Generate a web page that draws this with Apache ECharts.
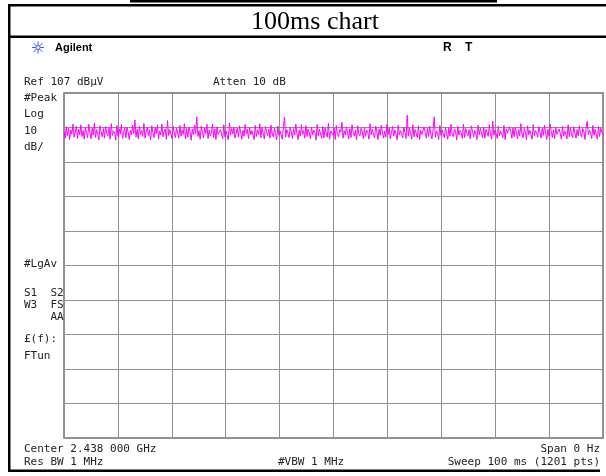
<!DOCTYPE html>
<html>
<head>
<meta charset="utf-8">
<script src="https://cdn.jsdelivr.net/npm/echarts@6/dist/echarts.min.js"></script>
<style>
html,body{margin:0;padding:0;background:#fff;}
#chart{width:606px;height:476px;}
</style>
</head>
<body>
<div id="chart"></div>
<script>
// ---- data ----
const TITLE = '100ms chart';
const REF_LEVEL = 107;        // dBµV, top of screen
const DB_PER_DIV = 10;
const DIVS = 10;
const SWEEP_MS = 100;
// trace (dBµV), left to right
const trace = [
  95.8, 93.9, 97.2, 94.6, 96.9, 93.5, 96.3, 95.1, 98.0, 94.2, 95.7, 97.4, 93.8, 96.5, 94.9, 97.8, 94.4, 96.1, 93.6, 97.0,
  95.3, 94.0, 97.9, 95.6, 93.7, 96.8, 94.8, 98.3, 94.1, 96.4, 95.0, 93.4, 97.5, 95.9, 94.3, 96.7, 93.9, 97.3, 95.2, 94.6,
  96.9, 93.6, 98.1, 94.7, 96.0, 95.4, 93.3, 97.6, 94.5, 96.6, 95.1, 97.9, 93.8, 95.5, 96.8, 94.0, 97.1, 95.7, 93.5, 96.2,
  94.9, 97.7, 95.3, 99.2, 94.2, 96.5, 93.7, 97.4, 95.0, 96.1, 94.4, 98.2, 93.9, 95.8, 97.0, 94.6, 96.3, 93.4, 97.5, 95.5,
  94.1, 96.9, 95.2, 97.8, 93.6, 96.0, 94.8, 98.0, 94.3, 95.9, 96.6, 93.5, 99.0, 94.7, 96.4, 95.1, 93.8, 97.3, 95.6, 94.0,
  96.8, 95.4, 93.9, 97.6, 94.5, 96.2, 95.0, 98.1, 93.7, 96.7, 94.2, 97.0, 95.8, 93.3, 96.5, 94.9, 97.7, 95.2, 100.1, 94.4,
  96.1, 93.6, 97.4, 95.5, 94.0, 96.9, 95.3, 97.9, 93.8, 96.3, 94.6, 95.7, 98.0, 94.1, 96.6, 93.5, 97.2, 95.0, 94.7, 96.4,
  95.9, 93.7, 97.8, 94.3, 96.0, 95.6, 93.4, 98.3, 94.8, 96.7, 95.1, 97.1, 93.9, 95.4, 96.8, 94.2, 97.5, 95.7, 93.6, 96.2,
  94.5, 97.9, 95.2, 96.5, 93.8, 97.0, 94.9, 96.1, 95.6, 93.5, 97.6, 94.4, 96.3, 95.0, 98.1, 94.0, 96.9, 95.3, 93.7, 97.3,
  95.8, 94.6, 96.6, 93.9, 97.7, 95.1, 94.3, 96.8, 95.5, 93.4, 97.4, 94.7, 96.0, 95.9, 93.6, 97.2, 100.0, 94.2, 96.4, 95.3,
  94.1, 97.0, 95.7, 93.8, 96.7, 94.8, 98.0, 95.2, 93.5, 96.3, 94.5, 97.8, 95.0, 96.1, 93.9, 97.5, 94.4, 96.6, 95.4, 93.7,
  97.1, 94.9, 96.2, 95.6, 93.3, 97.9, 94.6, 96.5, 95.1, 93.8, 97.3, 94.0, 96.8, 95.5, 94.2, 98.2, 93.6, 96.0, 95.8, 94.7,
  96.9, 93.5, 97.6, 95.0, 94.3, 96.4, 95.7, 98.5, 93.9, 96.1, 94.8, 97.2, 95.3, 93.7, 96.7, 94.1, 97.8, 95.6, 94.5, 96.3,
  93.4, 97.5, 95.2, 94.6, 96.8, 95.9, 93.8, 97.0, 94.4, 96.2, 95.5, 93.6, 98.1, 94.9, 96.5, 95.1, 94.0, 97.4, 95.8, 93.5,
  96.6, 94.7, 97.7, 95.4, 93.9, 96.0, 94.2, 97.9, 95.0, 96.9, 93.7, 95.6, 97.3, 94.5, 96.3, 95.2, 93.4, 97.6, 94.8, 96.1,
  95.7, 94.0, 97.1, 95.5, 93.8, 100.6, 94.6, 96.7, 95.3, 93.6, 97.8, 94.3, 96.4, 95.9, 94.1, 97.5, 93.5, 96.2, 95.0, 94.9,
  97.2, 95.6, 93.9, 96.8, 94.4, 97.4, 95.1, 93.7, 96.5, 100.1, 94.2, 96.0, 95.4, 93.5, 97.6, 94.7, 96.3, 95.8, 94.0, 97.0,
  95.2, 93.6, 96.9, 94.5, 97.9, 95.0, 94.3, 96.6, 95.7, 93.4, 97.3, 94.8, 96.1, 95.5, 93.8, 98.0, 94.1, 96.7, 95.3, 94.6,
  96.4, 93.7, 97.5, 95.9, 94.2, 96.2, 95.1, 93.5, 97.7, 94.9, 96.8, 95.4, 94.0, 97.1, 93.9, 96.5, 95.6, 94.4, 97.8, 95.0,
  93.6, 98.9, 94.7, 96.3, 95.2, 93.8, 97.4, 94.6, 96.0, 95.7, 94.1, 97.6, 93.5, 96.6, 95.3, 94.8, 97.2, 95.9, 93.9, 96.9,
  94.3, 97.0, 95.5, 93.7, 96.4, 94.5, 98.1, 95.1, 94.0, 96.7, 95.8, 93.4, 97.5, 94.9, 96.2, 95.0, 93.6, 97.9, 94.6, 96.1,
  95.4, 94.2, 97.3, 95.6, 93.9, 96.8, 94.7, 97.7, 95.2, 93.5, 96.5, 94.4, 98.0, 95.9, 94.1, 96.3, 93.8, 97.1, 95.0, 94.8,
  96.6, 95.3, 93.6, 97.4, 94.5, 96.0, 95.7, 93.7, 97.8, 94.3, 96.9, 95.1, 94.0, 97.2, 95.5, 93.9, 96.4, 94.6, 97.5, 95.2,
  94.2, 96.7, 95.8, 93.5, 97.0, 98.8, 94.9, 96.2, 95.4, 93.8, 97.6, 94.7, 96.5, 95.0, 93.6, 97.3, 94.4, 96.8, 95.6, 94.9
];
// screen annotations
const leftTop = ['Ref 107 dBµV', '#Peak', 'Log', '10', 'dB/'];
const leftMid = ['#LgAv', 'S1  S2', 'W3  FS', '    AA', '£(f):', 'FTun'];
const attenText = 'Atten 10 dB';
const brandText = 'Agilent';
const flagsText = 'R    T';
const bottomLeft = ['Center 2.438 000 GHz', 'Res BW 1 MHz'];
const bottomMid = '#VBW 1 MHz';
const bottomRight = ['Span 0 Hz', 'Sweep 100 ms (1201 pts)'];

// ---- chart ----
const chart = echarts.init(document.getElementById('chart'), null, {renderer: 'canvas'});
const MONO = '11px "DejaVu Sans Mono", monospace';
const TXT = '#222';
function txt(text, x, y, opts) {
  return {
    type: 'text', silent: true, z: 10,
    style: Object.assign({text: text, x: x, y: y, font: MONO, fill: TXT, verticalAlign: 'middle', align: 'left'}, opts || {})
  };
}
function rect(x, y, w, h, fill) {
  return {type: 'rect', silent: true, z: 5, shape: {x: x, y: y, width: w, height: h}, style: {fill: fill || '#000'}};
}
function line(x1, y1, x2, y2, stroke, lw) {
  return {type: 'line', silent: true, z: 6, shape: {x1: x1, y1: y1, x2: x2, y2: y2}, style: {stroke: stroke, lineWidth: lw || 1}};
}

const graphics = [];
// frame
graphics.push(rect(130, 0, 367, 2.5));
graphics.push(rect(8, 4, 598, 2.5));
graphics.push(rect(8, 4, 2.5, 468));
graphics.push(rect(8, 35.5, 598, 2.5));
graphics.push(rect(8, 469.5, 592, 2.5));
// title
graphics.push(txt(TITLE, 315, 22, {font: '26px "Liberation Serif", "Times New Roman", serif', fill: '#000', align: 'center'}));
// logo
const cx = 38, cy = 47.5, blue = '#3a5cff';
graphics.push(line(cx - 6, cy, cx + 6, cy, blue, 1));
graphics.push(line(cx, cy - 6, cx, cy + 6, blue, 1));
graphics.push(line(cx - 4.5, cy - 4.5, cx + 4.5, cy + 4.5, blue, 1));
graphics.push(line(cx - 4.5, cy + 4.5, cx + 4.5, cy - 4.5, blue, 1));
graphics.push({type: 'circle', silent: true, z: 7, shape: {cx: cx, cy: cy, r: 2}, style: {fill: '#fff', stroke: blue, lineWidth: 1}});
graphics.push(txt(brandText, 55, 47.5, {font: 'bold 11px "Liberation Sans", Arial, sans-serif', fill: '#000'}));
graphics.push(txt(flagsText, 443, 48, {font: 'bold 12px "Liberation Sans", Arial, sans-serif', fill: '#000'}));
// left column
const topYs = [82, 98, 114, 131, 147];
leftTop.forEach((t, i) => graphics.push(txt(t, 24, topYs[i])));
graphics.push(txt(attenText, 213, 82));
const midYs = [264, 293.5, 305, 317, 339, 356];
leftMid.forEach((t, i) => graphics.push(txt(t, 24, midYs[i])));
// bottom
graphics.push(txt(bottomLeft[0], 24, 449));
graphics.push(txt(bottomLeft[1], 24, 462));
graphics.push(txt(bottomMid, 278, 462));
graphics.push(txt(bottomRight[0], 600, 449, {align: 'right'}));
graphics.push(txt(bottomRight[1], 600, 462, {align: 'right'}));

const seriesData = trace.map((v, i) => [i * SWEEP_MS / (trace.length - 1), v - REF_LEVEL]);

chart.setOption({
  animation: false,
  backgroundColor: '#fff',
  grid: {left: 64, right: 3, top: 93, bottom: 38, show: true, borderColor: '#707070', borderWidth: 1.5, backgroundColor: 'transparent'},
  xAxis: {
    type: 'value', min: 0, max: SWEEP_MS, interval: SWEEP_MS / DIVS,
    axisLine: {show: false}, axisTick: {show: false}, axisLabel: {show: false},
    splitLine: {show: true, lineStyle: {color: '#8f8f8f', width: 1}}
  },
  yAxis: {
    type: 'value', min: -DB_PER_DIV * DIVS, max: 0, interval: DB_PER_DIV,
    axisLine: {show: false}, axisTick: {show: false}, axisLabel: {show: false},
    splitLine: {show: true, lineStyle: {color: '#8f8f8f', width: 1}}
  },
  series: [{
    type: 'line', data: seriesData, symbol: 'none', z: 3,
    lineStyle: {color: '#ff00ff', width: 1}
  }],
  graphic: graphics
});
</script>
</body>
</html>
